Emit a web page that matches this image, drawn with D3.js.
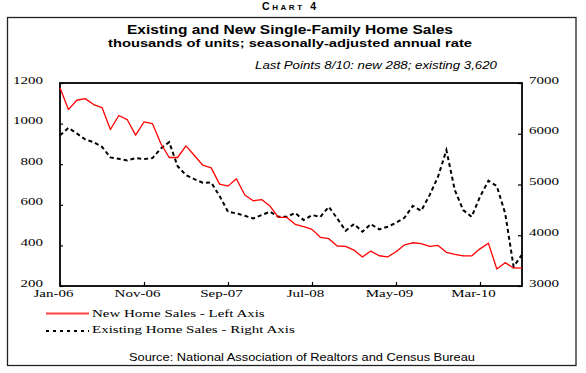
<!DOCTYPE html>
<html>
<head>
<meta charset="utf-8">
<script src="https://cdn.jsdelivr.net/npm/d3@7"></script>
<style>
body { margin: 0; background: #fff; }
svg { display: block; }
.serif { font-family: "Liberation Serif", "Times New Roman", serif; font-size: 10px; fill: #000; }
.sans { font-family: "Liberation Sans", Arial, sans-serif; fill: #000; }
</style>
</head>
<body>
<div id="c"></div>
<script>
// monthly, Jan-06 .. Aug-10
var months = d3.timeMonth.range(new Date(2006, 0, 1), new Date(2010, 8, 1));

var new_sales = [1177, 1069, 1115, 1123, 1094, 1079, 971, 1040, 1020, 943, 1008, 1000,
	902, 833, 833, 890, 843, 795, 782, 702, 692, 728, 648, 620,
	626, 594, 538, 538, 504, 492, 479, 440, 433, 397, 395, 377,
	343, 372, 349, 343, 369, 402, 413, 409, 395, 400, 366, 356,
	348, 348, 383, 411, 284, 315, 289, 288];

var existing_sales = [5970, 6116, 6006, 5888, 5835, 5742, 5533, 5506, 5474, 5520, 5500, 5520,
	5710, 5835, 5360, 5185, 5106, 5034, 5040, 4772, 4463, 4430, 4384, 4332,
	4398, 4463, 4364, 4364, 4440, 4299, 4398, 4364, 4561, 4332, 4089, 4220,
	4069, 4220, 4116, 4167, 4246, 4344, 4580, 4482, 4791, 5152, 5677, 4890,
	4496, 4364, 4758, 5073, 4969, 4430, 3380, 3620];

var left_ticks = [200, 400, 600, 800, 1000, 1200];
var right_ticks = [3000, 4000, 5000, 6000, 7000];
var x_tick_idx = [0, 10, 20, 30, 40, 50];
var series_names = ["New Home Sales - Left Axis", "Existing Home Sales - Right Axis"];

var width = 586;
var height = 373;

var x_left = 60, x_right = 522;
var y_top = 83, y_bot = 286;
var sx = 1.5; // the serif text in the original is wide

var svg = d3.select("#c").append("svg")
	.attr("width", width)
	.attr("height", height);

function stretch(sel, k) {
	sel.each(function() {
		var t = d3.select(this);
		var x = +t.attr("x") || 0, y = +t.attr("y") || 0;
		t.attr("x", 0).attr("y", 0)
			.attr("transform", "translate(" + x + "," + y + ") scale(" + k + ",1)");
	});
}

var x_scale = d3.scaleLinear()
	.domain([0, months.length - 1])
	.range([x_left, x_right]);

var y_left = d3.scaleLinear()
	.domain([200, 1200])
	.range([y_bot, y_top]);

var y_right = d3.scaleLinear()
	.domain([3000, 7000])
	.range([y_bot, y_top]);

// outer frame
svg.append("rect")
	.attr("x", 7.5).attr("y", 17.5)
	.attr("width", 568.5).attr("height", 348)
	.attr("fill", "none")
	.attr("stroke", "#222")
	.attr("stroke-width", 1.3);

// header
var chart_no = svg.append("text")
	.attr("class", "sans")
	.attr("x", 289).attr("y", 9.5)
	.attr("text-anchor", "middle")
	.attr("font-weight", "bold")
	.attr("textLength", 54)
	.attr("lengthAdjust", "spacing");
chart_no.append("tspan").attr("font-size", 10.5).text("C");
chart_no.append("tspan").attr("font-size", 8).text("HART");
chart_no.append("tspan").attr("font-size", 10.5).text(" 4");

svg.append("text")
	.attr("class", "sans")
	.attr("x", 290).attr("y", 33.5)
	.attr("text-anchor", "middle")
	.attr("font-weight", "bold")
	.attr("font-size", 12.5)
	.attr("textLength", 326)
	.attr("lengthAdjust", "spacingAndGlyphs")
	.text("Existing and New Single-Family Home Sales");

svg.append("text")
	.attr("class", "sans")
	.attr("x", 290).attr("y", 46.5)
	.attr("text-anchor", "middle")
	.attr("font-weight", "bold")
	.attr("font-size", 11.5)
	.attr("textLength", 364)
	.attr("lengthAdjust", "spacingAndGlyphs")
	.text("thousands of units; seasonally-adjusted annual rate");

svg.append("text")
	.attr("class", "sans")
	.attr("x", 255).attr("y", 68.5)
	.attr("font-style", "italic")
	.attr("font-size", 10)
	.attr("textLength", 242)
	.attr("lengthAdjust", "spacingAndGlyphs")
	.text("Last Points 8/10: new " + new_sales[new_sales.length - 1] +
		"; existing " + d3.format(",")(existing_sales[existing_sales.length - 1]));

// axes
var fmt = d3.timeFormat("%b-%y");

var x_axis = svg.append("g")
	.attr("transform", "translate(0," + y_bot + ")")
	.call(d3.axisBottom(x_scale)
		.tickValues(x_tick_idx)
		.tickSize(-4)
		.tickFormat(function(i) { return fmt(months[i]); }));
x_axis.selectAll("text")
	.attr("class", "serif")
	.attr("dy", 0).attr("x", -7).attr("y", 11.3)
	.call(stretch, sx);

var l_axis = svg.append("g")
	.attr("transform", "translate(" + x_left + ",0)")
	.call(d3.axisLeft(y_left).tickValues(left_ticks).tickSize(-3).tickFormat(d3.format("d")));
l_axis.selectAll("text")
	.attr("class", "serif")
	.attr("text-anchor", "end")
	.attr("dy", 0).attr("x", -17).attr("y", 0)
	.call(stretch, sx);

var r_axis = svg.append("g")
	.attr("transform", "translate(" + x_right + ",0)")
	.call(d3.axisRight(y_right).tickValues(right_ticks).tickSize(-4).tickFormat(d3.format("d")));
r_axis.selectAll("text")
	.attr("class", "serif")
	.attr("text-anchor", "start")
	.attr("dy", 0).attr("x", 7).attr("y", 0)
	.call(stretch, sx);

svg.selectAll(".domain").remove();
svg.selectAll(".tick line").attr("stroke", "#000").attr("stroke-width", 1.2);

// plot frame
svg.append("rect")
	.attr("x", x_left).attr("y", y_top)
	.attr("width", x_right - x_left).attr("height", y_bot - y_top)
	.attr("fill", "none")
	.attr("stroke", "#000")
	.attr("stroke-width", 1.8);

// lines
var new_line = d3.line()
	.x(function(d, i) { return x_scale(i); })
	.y(function(d) { return y_left(d); });

var existing_line = d3.line()
	.x(function(d, i) { return x_scale(i); })
	.y(function(d) { return y_right(d); });

svg.append("path")
	.datum(existing_sales)
	.attr("d", existing_line)
	.attr("fill", "none")
	.attr("stroke", "#000")
	.attr("stroke-width", 2)
	.attr("stroke-dasharray", "4,3");

svg.append("path")
	.datum(new_sales)
	.attr("d", new_line)
	.attr("fill", "none")
	.attr("stroke", "#f00")
	.attr("stroke-width", 1.3)
	.attr("stroke-linejoin", "round");

// legend
var leg = svg.append("g");
leg.append("line")
	.attr("x1", 46).attr("x2", 89).attr("y1", 313.5).attr("y2", 313.5)
	.attr("stroke", "#ff4040").attr("stroke-width", 2);
leg.append("line")
	.attr("x1", 46).attr("x2", 89).attr("y1", 331).attr("y2", 331)
	.attr("stroke", "#000").attr("stroke-width", 2).attr("stroke-dasharray", "3,4");
leg.selectAll("text.lg")
	.data(series_names)
	.enter()
	.append("text")
	.attr("class", "serif lg")
	.attr("x", 92)
	.attr("y", function(d, i) { return 316.5 + i * 16.5; })
	.text(function(d) { return d; })
	.call(stretch, sx);

svg.append("text")
	.attr("class", "sans")
	.attr("x", 302).attr("y", 361)
	.attr("text-anchor", "middle")
	.attr("font-size", 11.5)
	.attr("textLength", 346)
	.attr("lengthAdjust", "spacingAndGlyphs")
	.text("Source: National Association of Realtors and Census Bureau");
</script>
</body>
</html>
